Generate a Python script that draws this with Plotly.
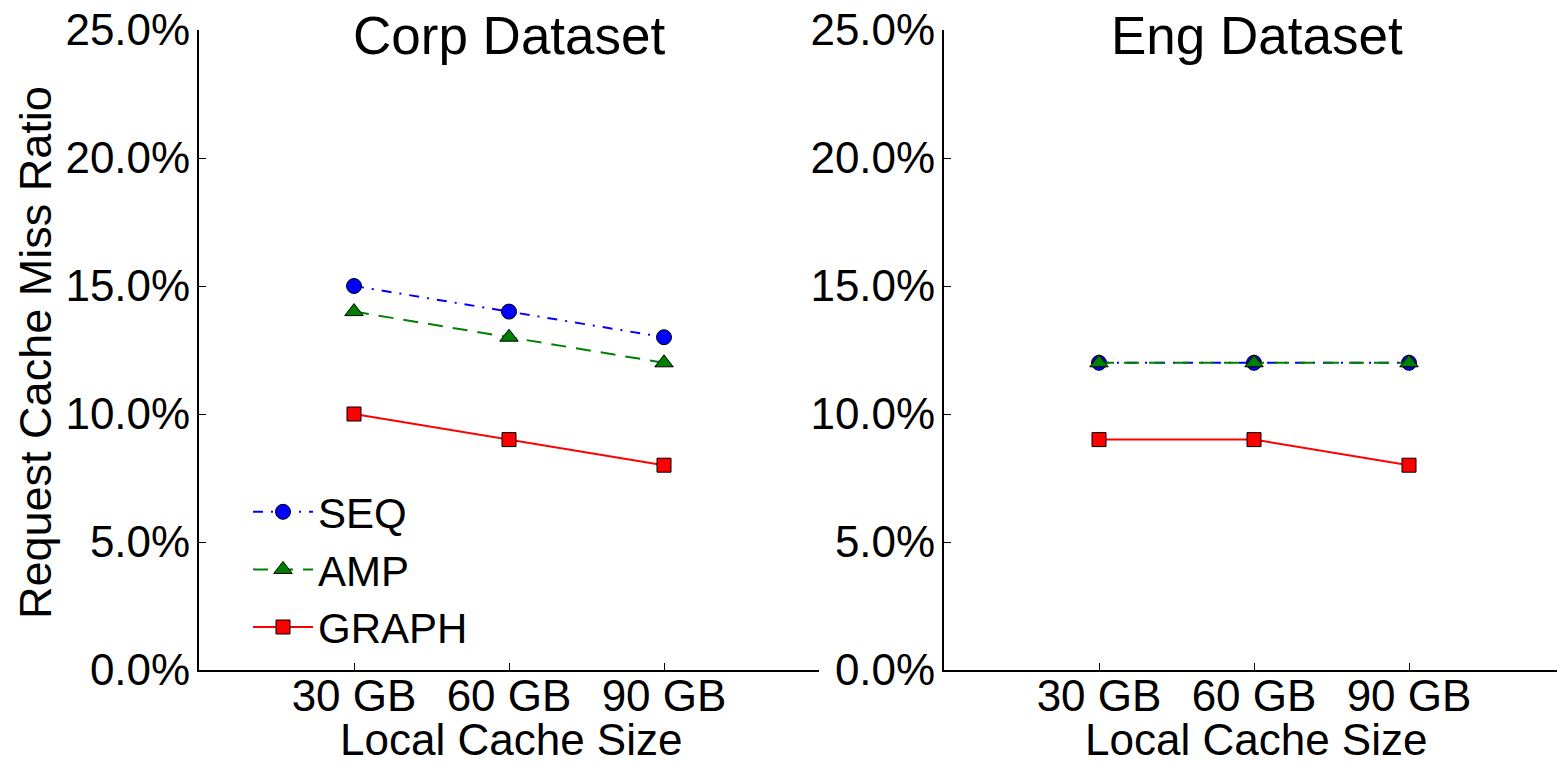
import plotly.graph_objects as go

# Local cache sizes on the x axis
cache_sizes = ["30 GB", "60 GB", "90 GB"]

# Request cache miss ratio (%) per scheme, Corp dataset
corp_seq = [15.0, 14.0, 13.0]
corp_amp = [14.0, 13.0, 12.0]
corp_graph = [10.0, 9.0, 8.0]

# Request cache miss ratio (%) per scheme, Eng dataset
eng_seq = [12.0, 12.0, 12.0]
eng_amp = [12.0, 12.0, 12.0]
eng_graph = [9.0, 9.0, 8.0]

y_ticks = [0, 5, 10, 15, 20, 25]
y_tick_text = ["0.0%", "5.0%", "10.0%", "15.0%", "20.0%", "25.0%"]

W, H = 1557, 765
M_T, M_B = 30, 95
FONT = "Liberation Sans, Arial, Helvetica, sans-serif"

styles = {
    "SEQ": dict(color="#0000ff", dash="10px,8px,2px,8px", symbol="circle", size=15),
    "AMP": dict(color="#008000", dash="15px,10px", symbol="triangle-up", size=16),
    "GRAPH": dict(color="#ff0000", dash="solid", symbol="square", size=14),
}

fig = go.Figure()

panels = [
    ("x", "y", {"SEQ": corp_seq, "AMP": corp_amp, "GRAPH": corp_graph}, True),
    ("x2", "y2", {"SEQ": eng_seq, "AMP": eng_amp, "GRAPH": eng_graph}, False),
]
for xa, ya, series, show in panels:
    for name, vals in series.items():
        st = styles[name]
        fig.add_trace(go.Scatter(
            x=cache_sizes, y=vals, name=name, xaxis=xa, yaxis=ya,
            mode="lines+markers", showlegend=show, legendgroup=name,
            line=dict(color=st["color"], width=2, dash=st["dash"]),
            marker=dict(symbol=st["symbol"], size=st["size"], color=st["color"],
                        line=dict(color="black", width=1)),
        ))

axis_common = dict(
    showgrid=False, zeroline=False, showline=True, linecolor="black", linewidth=2,
    ticks="inside", ticklen=7, tickwidth=1, tickcolor="black",
    tickfont=dict(family=FONT, size=44, color="black"),
)

def px_x(p):
    return p / W

fig.update_layout(
    width=W, height=H,
    margin=dict(l=0, r=0, t=M_T, b=M_B),
    paper_bgcolor="white", plot_bgcolor="white",
    font=dict(family=FONT, color="black"),
    xaxis=dict(domain=[px_x(199), px_x(819)], type="category", range=[-1, 3],
               anchor="y", ticklabelstandoff=-14, **axis_common),
    yaxis=dict(domain=[0, 1], range=[0, 25], tickvals=y_ticks, ticktext=y_tick_text,
               anchor="x", ticklabelstandoff=-2, **axis_common),
    xaxis2=dict(domain=[px_x(944), 1.0], type="category", range=[-1, (W - 944) / 155 - 1],
                anchor="y2", ticklabelstandoff=-14, **axis_common),
    yaxis2=dict(domain=[0, 1], range=[0, 25], tickvals=y_ticks, ticktext=y_tick_text,
                anchor="x2", ticklabelstandoff=-2, **axis_common),
    legend=dict(
        x=px_x(248), y=(H - M_B - 478) / (H - M_T - M_B), xanchor="left", yanchor="top",
        bgcolor="rgba(0,0,0,0)", borderwidth=0,
        font=dict(family=FONT, size=42, color="black"),
        itemwidth=60, tracegroupgap=0,
    ),
    showlegend=True,
)

def py(p):
    return (H - M_B - p) / (H - M_T - M_B)

annotations = [
    dict(text="Corp Dataset", x=px_x(509), y=py(35), size=53),
    dict(text="Eng Dataset", x=px_x(1257), y=py(35), size=53),
    dict(text="Local Cache Size", x=px_x(511), y=py(739), size=44),
    dict(text="Local Cache Size", x=px_x(1256), y=py(739), size=44),
]
for a in annotations:
    fig.add_annotation(text=a["text"], x=a["x"], y=a["y"], xref="paper", yref="paper",
                       xanchor="center", yanchor="middle", showarrow=False,
                       font=dict(family=FONT, size=a["size"], color="black"))

fig.add_annotation(text="Request Cache Miss Ratio", x=px_x(35), y=py(353),
                   xref="paper", yref="paper", xanchor="center", yanchor="middle",
                   textangle=-90, showarrow=False,
                   font=dict(family=FONT, size=45, color="black"))

fig.write_html("out.html")
